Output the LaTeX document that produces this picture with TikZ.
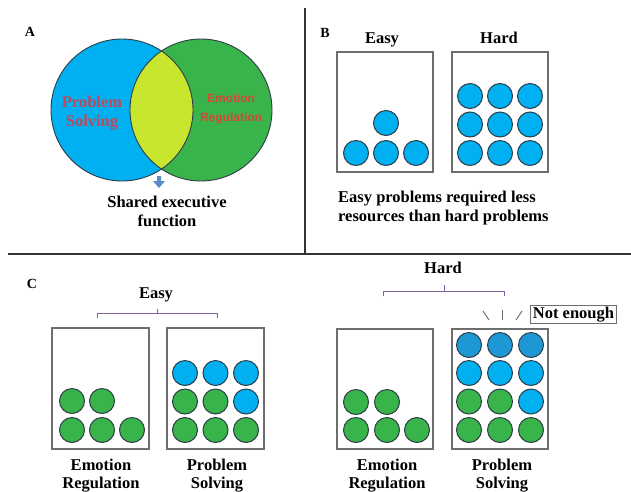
\documentclass[tikz,border=0pt]{standalone}
\usepackage{fontspec}
\setmainfont{Liberation Serif}
\newfontfamily\sansb{Liberation Sans}
\definecolor{cblue}{RGB}{0,176,240}
\definecolor{cgreen}{RGB}{57,180,74}
\definecolor{clens}{RGB}{200,230,45}
\definecolor{cdark}{RGB}{30,152,212}
\definecolor{outl}{RGB}{45,60,72}
\definecolor{boxgray}{RGB}{110,110,110}
\definecolor{redA}{RGB}{192,72,88}
\definecolor{redB}{RGB}{214,70,60}
\definecolor{brk}{RGB}{128,100,162}
\definecolor{arr}{RGB}{90,140,200}
\begin{document}
\begin{tikzpicture}[x=1pt,y=-1pt,
  res/.style={circle, draw=outl, line width=1pt, minimum size=25pt, inner sep=0pt},
  bres/.style={res, fill=cblue},
  gres/.style={res, fill=cgreen},
  dres/.style={res, fill=cdark},
  rbox/.style={draw=boxgray, line width=1.3pt, inner sep=0pt},
  lbl/.style={font=\fontsize{16.5}{19}\selectfont\bfseries, align=center, inner sep=0pt},
  blbl/.style={font=\fontsize{16.5}{18}\selectfont\bfseries, align=center, inner sep=0pt},
  panel/.style={font=\fontsize{14}{16}\selectfont\bfseries, inner sep=0pt},
  divider/.style={draw=black!80, line width=1.4pt},
  bracket/.style={draw=brk, line width=1pt},
  tick/.style={draw=black!60, line width=0.9pt}]
\useasboundingbox (0,0) rectangle (631,491);

% dividers
\coordinate (vt) at (305,8);
\coordinate (vb) at (305,254);
\coordinate (hl) at (8,254);
\coordinate (hr) at (631,254);
\path[divider] (vt) -- (vb);
\path[divider] (hl) -- (hr);

% ---------- Panel A ----------
\node[panel, anchor=base] (pa) at (30,36) {A};
\coordinate (cb) at (122,110);
\coordinate (cg) at (201,110);
\fill[cblue] (cb) circle (71);
\fill[cgreen] (cg) circle (71);
\begin{scope}
  \clip (cb) circle (71);
  \fill[clens] (cg) circle (71);
\end{scope}
\draw[outl, line width=0.9pt] (cb) circle (71);
\draw[outl, line width=0.9pt] (cg) circle (71);
\node[lbl, anchor=north, text=redA] (ps) at (92,96) {Problem\\Solving};
\node[anchor=north, align=center, inner sep=0pt, text=redB, font=\sansb\fontsize{12}{18.5}\selectfont\bfseries] (er) at (231,94) {Emotion\\Regulation};
\fill[arr] (157,176) -- (161,176) -- (161,181) -- (165,181) -- (159,188) -- (153,181) -- (157,181) -- cycle;
\node[lbl, anchor=north] (sef) at (167,196) {Shared executive\\function};

% ---------- Panel B ----------
\node[panel, anchor=base] (pb) at (325,37) {B};
\node[lbl, anchor=base] (beasy) at (382,43) {Easy};
\node[lbl, anchor=base] (bhard) at (499,43) {Hard};
\node[rbox, minimum width=96pt, minimum height=120pt] (boxbe) at (385,112) {};
\node[rbox, minimum width=96pt, minimum height=120pt] (boxbh) at (500,112) {};
\foreach \x [count=\i] in {356,386,416} {
  \node[bres] (be\i) at (\x,153) {};
}
\node[bres] (be4) at (386,123) {};
\foreach \y [count=\j] in {96,124.5,153} {
  \foreach \x [count=\i] in {470,500,530} {
    \node[bres] (bh\j\i) at (\x,\y) {};
  }
}
\node[lbl, anchor=north west, align=left] (bcap) at (338,191) {Easy problems required less\\resources than hard problems};

% ---------- Panel C ----------
\node[panel, anchor=base] (pc) at (32,288) {C};
\node[lbl, anchor=base] (ceasy) at (156,298) {Easy};
\node[lbl, anchor=base] (chard) at (443,273) {Hard};

% brackets
\coordinate (e1) at (97,318); \coordinate (e2) at (97,313);
\coordinate (e3) at (217,313); \coordinate (e4) at (217,318);
\coordinate (em) at (157,313); \coordinate (et) at (157,309);
\path[bracket] (e1) -- (e2) -- (e3) -- (e4);
\path[bracket] (em) -- (et);
\coordinate (h1) at (383,296); \coordinate (h2) at (383,291);
\coordinate (h3) at (504,291); \coordinate (h4) at (504,296);
\coordinate (hm) at (444,291); \coordinate (ht) at (444,285);
\path[bracket] (h1) -- (h2) -- (h3) -- (h4);
\path[bracket] (hm) -- (ht);

% boxes
\node[rbox, minimum width=97pt, minimum height=121pt] (cer1) at (100.5,388.5) {};
\node[rbox, minimum width=97pt, minimum height=121pt] (cps1) at (215.5,388.5) {};
\node[rbox, minimum width=96pt, minimum height=120pt] (cer2) at (385,389) {};
\node[rbox, minimum width=96pt, minimum height=120pt] (cps2) at (500,389) {};

% easy ER
\node[gres] (a1) at (72,430) {};
\node[gres] (a2) at (102,430) {};
\node[gres] (a3) at (132,430) {};
\node[gres] (a4) at (72,401) {};
\node[gres] (a5) at (102,401) {};
% easy PS
\node[gres] (b1) at (185,430) {};
\node[gres] (b2) at (215.5,430) {};
\node[gres] (b3) at (246,430) {};
\node[gres] (b4) at (185,401.5) {};
\node[gres] (b5) at (215.5,401.5) {};
\node[bres] (b6) at (246,401.5) {};
\node[bres] (b7) at (185,373) {};
\node[bres] (b8) at (215.5,373) {};
\node[bres] (b9) at (246,373) {};
% hard ER
\node[gres] (c1) at (356,430) {};
\node[gres] (c2) at (387,430) {};
\node[gres] (c3) at (417,430) {};
\node[gres] (c4) at (356,402) {};
\node[gres] (c5) at (387,402) {};
% hard PS
\node[gres] (d1) at (469,430) {};
\node[gres] (d2) at (500,430) {};
\node[gres] (d3) at (531,430) {};
\node[gres] (d4) at (469,401.5) {};
\node[gres] (d5) at (500,401.5) {};
\node[bres] (d6) at (531,401.5) {};
\node[bres] (d7) at (469,373) {};
\node[bres] (d8) at (500,373) {};
\node[bres] (d9) at (531,373) {};
\node[dres] (d10) at (469,345) {};
\node[dres] (d11) at (500,345) {};
\node[dres] (d12) at (531,345) {};

% not enough
\coordinate (t1a) at (483,311); \coordinate (t1b) at (489,320);
\coordinate (t2a) at (502,310); \coordinate (t2b) at (502,320);
\coordinate (t3a) at (522,311); \coordinate (t3b) at (516,320);
\path[tick] (t1a) -- (t1b);
\path[tick] (t2a) -- (t2b);
\path[tick] (t3a) -- (t3b);
\node[draw=boxgray, line width=1.1pt, inner xsep=2pt, inner ysep=1.5pt, font=\fontsize{16.5}{19}\selectfont\bfseries] (ne) at (573.5,314.5) {Not enough};

% bottom labels
\node[blbl, anchor=north] (l1) at (101,459) {Emotion\\Regulation};
\node[blbl, anchor=north] (l2) at (217,459) {Problem\\Solving};
\node[blbl, anchor=north] (l3) at (387,459) {Emotion\\Regulation};
\node[blbl, anchor=north] (l4) at (502,459) {Problem\\Solving};
\end{tikzpicture}
\end{document}
